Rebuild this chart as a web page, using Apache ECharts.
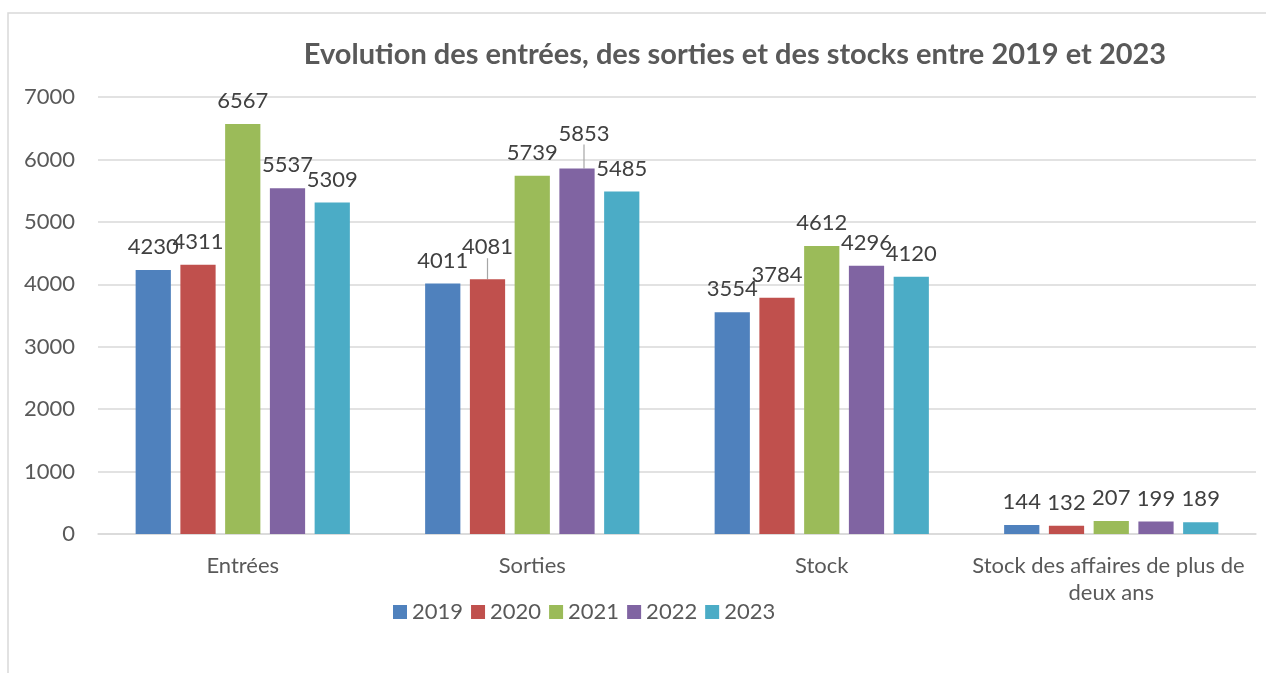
<!DOCTYPE html>
<html>
<head>
    <meta charset="UTF-8" />
    <title>Evolution des entrées, des sorties et des stocks</title>
    <script src="https://cdn.jsdelivr.net/npm/echarts@6/dist/echarts.min.js"></script>
    <style>
        html, body { margin: 0; padding: 0; background: #fff; }
        #main { width: 1266px; height: 673px; }
    </style>
</head>
<body>
<div id="main"></div>
<script>
var chartDom = document.getElementById('main');
var myChart = echarts.init(chartDom);

// Categories and values
var categories = ['Entrées', 'Sorties', 'Stock', 'Stock des affaires de plus de deux ans'];
var years = ['2019', '2020', '2021', '2022', '2023'];
var v2019 = [4230, 4011, 3554, 144];
var v2020 = [4311, 4081, 3784, 132];
var v2021 = [6567, 5739, 4612, 207];
var v2022 = [5537, 5853, 4296, 199];
var v2023 = [5309, 5485, 4120, 189];

var values = [v2019, v2020, v2021, v2022, v2023];
var colors = ['#4F81BD', '#C0504D', '#9BBB59', '#8064A2', '#4BACC6'];
var FONT = 'Lato, "Open Sans", sans-serif';

// labels nudged upward (with a leader line) like in the original
function nudge(seriesIndex, dataIndex) {
    if (seriesIndex === 1 && dataIndex === 1) return { dx: 0, dy: -9 };
    if (seriesIndex === 3 && dataIndex === 1) return { dx: 7, dy: -12 };
    return null;
}

var series = years.map(function (y, i) {
    return {
        name: y,
        type: 'bar',
        // only the nudged labels get a leader line
        data: values[i].map(function (v, j) {
            if (nudge(i, j)) {
                return { value: v, labelLine: { show: true } };
            }
            return v;
        }),
        barGap: '27%',
        barCategoryGap: '26%',
        itemStyle: { color: colors[i] },
        label: {
            show: true,
            position: 'top',
            distance: 12,
            color: '#404040',
            fontFamily: FONT,
            fontSize: 22
        },
        labelLine: {
            show: false,
            lineStyle: { color: '#a6a6a6', width: 1.2 }
        },
        labelLayout: function (params) {
            var n = nudge(params.seriesIndex, params.dataIndex);
            return n ? n : {};
        }
    };
});

var option = {
    backgroundColor: '#fff',
    animation: false,
    color: colors,
    title: {
        text: 'Evolution des entrées, des sorties et des stocks entre 2019 et 2023',
        left: 730,
        textAlign: 'center',
        top: 35,
        textStyle: {
            fontFamily: FONT,
            fontSize: 29,
            fontWeight: 'bold',
            color: '#595959'
        }
    },
    legend: {
        data: years,
        left: 388,
        top: 596,
        itemWidth: 14,
        itemHeight: 14,
        itemGap: 8,
        icon: 'rect',
        textStyle: { fontFamily: FONT, fontSize: 22, color: '#595959' }
    },
    grid: {
        left: 98,
        right: 10,
        top: 97,
        bottom: 139
    },
    xAxis: {
        type: 'category',
        data: categories,
        axisLine: { lineStyle: { color: '#d9d9d9', width: 1.5 } },
        axisTick: { show: false },
        axisLabel: {
            interval: 0,
            color: '#595959',
            fontFamily: FONT,
            fontSize: 22,
            margin: 18,
            lineHeight: 27,
            width: 285,
            overflow: 'break'
        }
    },
    yAxis: {
        type: 'value',
        min: 0,
        max: 7000,
        interval: 1000,
        axisLine: { show: false },
        axisTick: { show: false },
        splitLine: { lineStyle: { color: '#d9d9d9', width: 1.5 } },
        axisLabel: {
            color: '#595959',
            fontFamily: FONT,
            fontSize: 22,
            margin: 23,
            formatter: function (v) { return String(v); }
        }
    },
    graphic: [{
        type: 'rect',
        shape: { x: 8, y: 13, width: 1300, height: 700 },
        style: { fill: 'none', stroke: '#d9d9d9', lineWidth: 1.5 },
        silent: true,
        z: -1
    }],
    series: series
};

myChart.setOption(option);
</script>
</body>
</html>
